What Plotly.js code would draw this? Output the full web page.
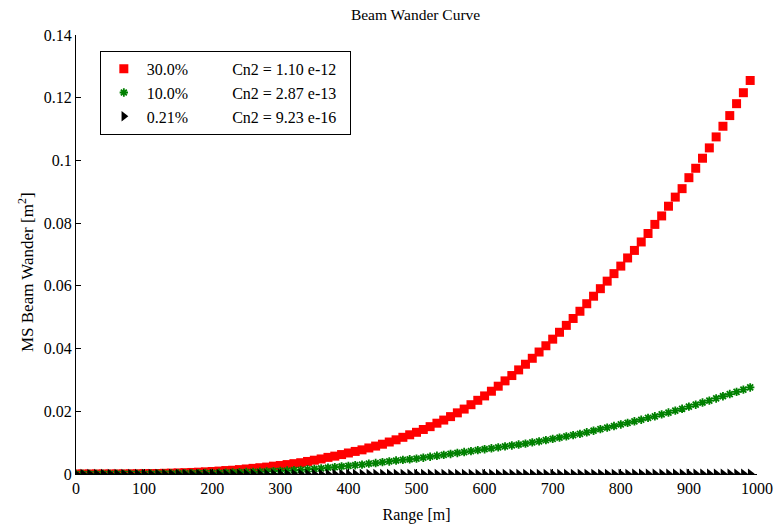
<!DOCTYPE html>
<html>
<head>
<meta charset="utf-8">
<script src="https://cdn.plot.ly/plotly-3.0.1.min.js"></script>
<style>
html,body{margin:0;padding:0;background:#fff;}
#chart{width:776px;height:530px;}
</style>
</head>
<body>
<div id="chart"></div>
<script>
var rangeM = [0,10,20,30,40,50,60,70,80,90,100,110,120,130,140,150,160,170,180,190,
  200,210,220,230,240,250,260,270,280,290,300,310,320,330,340,350,360,370,380,390,
  400,410,420,430,440,450,460,470,480,490,500,510,520,530,540,550,560,570,580,590,
  600,610,620,630,640,650,660,670,680,690,700,710,720,730,740,750,760,770,780,790,
  800,810,820,830,840,850,860,870,880,890,900,910,920,930,940,950,960,970,980,990];

var wander30 = [0,0,0,0,0.00001,0.00001,0.00002,0.00003,0.00005,0.00007,
  0.0001,0.00013,0.00017,0.00022,0.00027,0.00034,0.00041,0.00049,0.00058,0.00069,
  0.0008,0.00093,0.0011,0.0012,0.0014,0.0016,0.0018,0.002,0.0022,0.0025,
  0.0027,0.003,0.0033,0.0036,0.004,0.0044,0.0048,0.0053,0.0057,0.0062,
  0.0067,0.0072,0.0077,0.0083,0.0089,0.0095,0.0102,0.0109,0.0117,0.0125,
  0.0133,0.0142,0.0151,0.0162,0.0172,0.0183,0.0195,0.0207,0.0221,0.0235,
  0.0249,0.0264,0.028,0.0297,0.0314,0.0332,0.035,0.0369,0.0389,0.0409,
  0.043,0.0452,0.0474,0.0496,0.0519,0.0543,0.0567,0.0591,0.0615,0.0639,
  0.0663,0.0689,0.0713,0.074,0.0767,0.0796,0.0823,0.0854,0.0883,0.091,
  0.0945,0.0975,0.1007,0.104,0.1075,0.1109,0.1143,0.1181,0.1216,0.1255];

var wander10 = [0,0,0,0,0.00001,0.00001,0.00002,0.00003,0.00004,0.00005,
  0.00006,0.00008,0.0001,0.00012,0.00014,0.00017,0.0002,0.00023,0.00027,0.00031,
  0.00035,0.0004,0.00045,0.0005,0.00056,0.00062,0.00068,0.00075,0.00082,0.0009,
  0.00098,0.0011,0.0012,0.0013,0.0015,0.0016,0.0018,0.002,0.0022,0.0024,
  0.0026,0.0028,0.003,0.0033,0.0035,0.0038,0.004,0.0043,0.0045,0.0047,
  0.0049,0.0052,0.0055,0.0058,0.0061,0.0064,0.0067,0.007,0.0073,0.0076,
  0.0079,0.0082,0.0085,0.0088,0.0091,0.0094,0.0097,0.0101,0.0104,0.0108,
  0.0112,0.0116,0.012,0.0124,0.0128,0.0133,0.0138,0.0143,0.0148,0.0153,
  0.0158,0.0163,0.0168,0.0173,0.0179,0.0184,0.019,0.0196,0.0202,0.0208,
  0.0215,0.0221,0.0228,0.0234,0.0241,0.0248,0.0255,0.0262,0.0269,0.0276];

var wander021 = [0,0,0,0,0,0,0,0,0,0,
  0,0,0,0,0,0,0,0,0,0,
  0,0,0,0,0,0,0,0,0,0,
  0,0,0,0,0,0,0,0,0,0,
  0,0,0,0,0,0,0,0,0,0,
  0.00001,0.00001,0.00001,0.00001,0.00001,0.00001,0.00001,0.00001,0.00001,0.00001,
  0.00002,0.00002,0.00002,0.00002,0.00002,0.00002,0.00002,0.00002,0.00002,0.00003,
  0.00003,0.00003,0.00003,0.00003,0.00004,0.00004,0.00004,0.00004,0.00005,0.00005,
  0.00005,0.00005,0.00006,0.00006,0.00006,0.00007,0.00007,0.00007,0.00008,0.00008,
  0.00008,0.00009,0.00009,0.00009,0.0001,0.0001,0.0001,0.00011,0.00011,0.00011];

var seriesPct = ["30.0%", "10.0%", "0.21%"];
var seriesCn2 = ["Cn2 = 1.10 e-12", "Cn2 = 2.87 e-13", "Cn2 = 9.23 e-16"];
var yTicks = [0, 0.02, 0.04, 0.06, 0.08, 0.1, 0.12, 0.14];
var yTickText = ["0", "0.02", "0.04", "0.06", "0.08", "0.1", "0.12", "0.14"];
var xTicks = [0,100,200,300,400,500,600,700,800,900,1000];

var gap = "\u00a0".repeat(11);
function nm(i){ return seriesPct[i] + gap + seriesCn2[i] + "\u00a0\u00a0"; }

var FONT = "'Liberation Serif', 'Times New Roman', serif";

var traces = [
  {x: rangeM, y: wander30, type: 'scatter', mode: 'markers', name: nm(0), legendgroup: 'a',
   marker: {symbol: 'square', size: 9, color: '#ff0000', line: {width: 0}}},
  {x: rangeM, y: wander10, type: 'scatter', mode: 'markers', name: nm(1), legendgroup: 'b',
   marker: {symbol: 'asterisk-open', size: 7, color: '#008000', line: {width: 1.8, color: '#008000'}}},
  {x: rangeM, y: wander021, type: 'scatter', mode: 'markers', name: nm(2), legendgroup: 'c',
   marker: {symbol: 'triangle-right', size: 9, color: '#000000', line: {width: 0}}}
];

var layout = {
  width: 776, height: 530,
  margin: {l: 76, r: 19, t: 35, b: 56, pad: 0},
  paper_bgcolor: '#ffffff', plot_bgcolor: '#ffffff',
  font: {family: FONT, size: 16, color: '#000'},
  title: {text: 'Beam Wander Curve', font: {family: FONT, size: 15.5, color: '#000'},
          x: 0.5355, xanchor: 'center', y: 0.972, yanchor: 'middle'},
  showlegend: true,
  legend: {x: 0.035, y: 0.964, xanchor: 'left', yanchor: 'top',
           bgcolor: '#ffffff', bordercolor: '#000000', borderwidth: 1,
           font: {family: FONT, size: 16, color: '#000'},
           itemwidth: 36, tracegroupgap: 0},
  xaxis: {range: [0, 1000], tickvals: xTicks, ticks: 'inside', ticklen: 5,
          tickcolor: '#000', showline: true, linecolor: '#000', linewidth: 1,
          showgrid: false, zeroline: false, mirror: false,
          tickfont: {family: FONT, size: 16, color: '#000'},
          title: {text: 'Range [m]', font: {family: FONT, size: 16, color: '#000'}, standoff: 12}},
  yaxis: {range: [0, 0.14], tickvals: yTicks, ticktext: yTickText, ticks: 'inside', ticklen: 5,
          tickcolor: '#000', showline: true, linecolor: '#000', linewidth: 1,
          showgrid: false, zeroline: false, mirror: false,
          tickfont: {family: FONT, size: 16, color: '#000'}},
  annotations: [
    {text: 'MS Beam Wander [m<sup>2</sup>]', textangle: -90, showarrow: false,
     xref: 'paper', yref: 'paper', x: -0.0734, y: 0.46, xanchor: 'center', yanchor: 'middle',
     font: {family: FONT, size: 17, color: '#000'}}
  ]
};

Plotly.newPlot('chart', traces, layout, {displayModeBar: false, staticPlot: true});
</script>
</body>
</html>
